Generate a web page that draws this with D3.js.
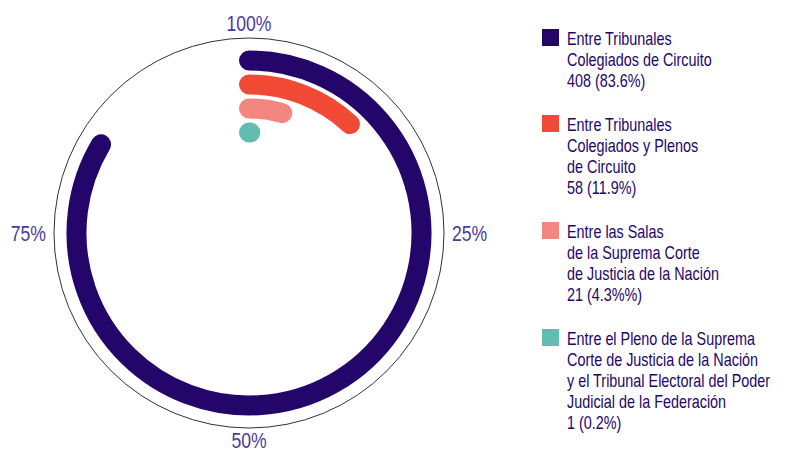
<!DOCTYPE html>
<html>
<head>
<meta charset="utf-8">
<script src="https://cdn.jsdelivr.net/npm/d3@7"></script>
<style>
    body { margin: 0; background: #fff; }
    svg text { font-family: "Liberation Sans", Arial, sans-serif; }
</style>
</head>
<body>
<div id="chart"></div>
<script>
const categories = [
    ["Entre Tribunales", "Colegiados de Circuito"],
    ["Entre Tribunales", "Colegiados y Plenos", "de Circuito"],
    ["Entre las Salas", "de la Suprema Corte", "de Justicia de la Nación"],
    ["Entre el Pleno de la Suprema", "Corte de Justicia de la Nación", "y el Tribunal Electoral del Poder", "Judicial de la Federación"]
];
const counts = [408, 58, 21, 1];
const percents = [83.6, 11.9, 4.3, 0.2];
const pctLabels = ["83.6%", "11.9%", "4.3%%", "0.2%"];
const colors = ["#24066b", "#f04a37", "#f3867e", "#62bcb0"];
const tickValues = [0, 25, 50, 75];
const tickLabels = ["100%", "25%", "50%", "75%"];

const svgWidth = 796;
const svgHeight = 453;
const cx = 249;
const cy = 233;
const outerRadius = 195;
const barWidth = 20;
const narrow = 0.8; // squeeze text to look like a condensed face

const svg = d3.select("#chart")
    .append("svg")
    .attr("width", svgWidth)
    .attr("height", svgHeight);

const angle = d3.scaleLinear().domain([0, 100]).range([0, 2 * Math.PI]);
const radius = d3.scalePoint()
    .domain(d3.range(categories.length))
    .range([172.5, 100.5]);

const g = svg.append("g").attr("transform", `translate(${cx}, ${cy})`);

// outer ring
g.append("circle")
    .attr("r", outerRadius)
    .attr("fill", "none")
    .attr("stroke", "#333")
    .attr("stroke-width", 1);

// bars as stroked arcs with round caps
g.selectAll(".bar")
    .data(percents)
    .enter()
    .append("path")
    .attr("class", "bar")
    .attr("d", (d, i) => {
        const p = d3.path();
        const a0 = -Math.PI / 2;
        const r = radius(i);
        p.moveTo(r * Math.cos(a0), r * Math.sin(a0));
        p.arc(0, 0, r, a0, a0 + angle(d));
        return p.toString();
    })
    .attr("fill", "none")
    .attr("stroke", (d, i) => colors[i])
    .attr("stroke-width", barWidth)
    .attr("stroke-linecap", "round");

// percent labels around the ring
g.selectAll(".tick")
    .data(tickValues)
    .enter()
    .append("text")
    .attr("class", "tick")
    .attr("transform", d => {
        const c = Math.cos(angle(d));
        const x = 203 * Math.sin(angle(d));
        const y = -(c > 0 ? 210 : 207) * c;
        return `translate(${x}, ${y}) scale(${narrow}, 1)`;
    })
    .attr("dy", "0.36em")
    .attr("text-anchor", d => {
        const s = Math.sin(angle(d));
        return s > 0.5 ? "start" : s < -0.5 ? "end" : "middle";
    })
    .attr("fill", "#4b3a9c")
    .attr("font-size", "22px")
    .text((d, i) => tickLabels[i]);

// legend
const legendX = 542;
const lineHeight = 21;
const blockGap = 23;
let y = 29;
categories.forEach((lines, i) => {
    const item = svg.append("g").attr("transform", `translate(${legendX}, ${y})`);
    item.append("rect")
        .attr("width", 17)
        .attr("height", 17)
        .attr("fill", colors[i]);
    const text = item.append("text")
        .attr("transform", `translate(25, 16) scale(${narrow}, 1)`)
        .attr("fill", "#24066b")
        .attr("font-size", "18px");
    const allLines = lines.concat([`${counts[i]} (${pctLabels[i]})`]);
    allLines.forEach((l, j) => {
        text.append("tspan")
            .attr("x", 0)
            .attr("dy", j === 0 ? 0 : lineHeight)
            .text(l);
    });
    y += allLines.length * lineHeight + blockGap;
});
</script>
</body>
</html>
